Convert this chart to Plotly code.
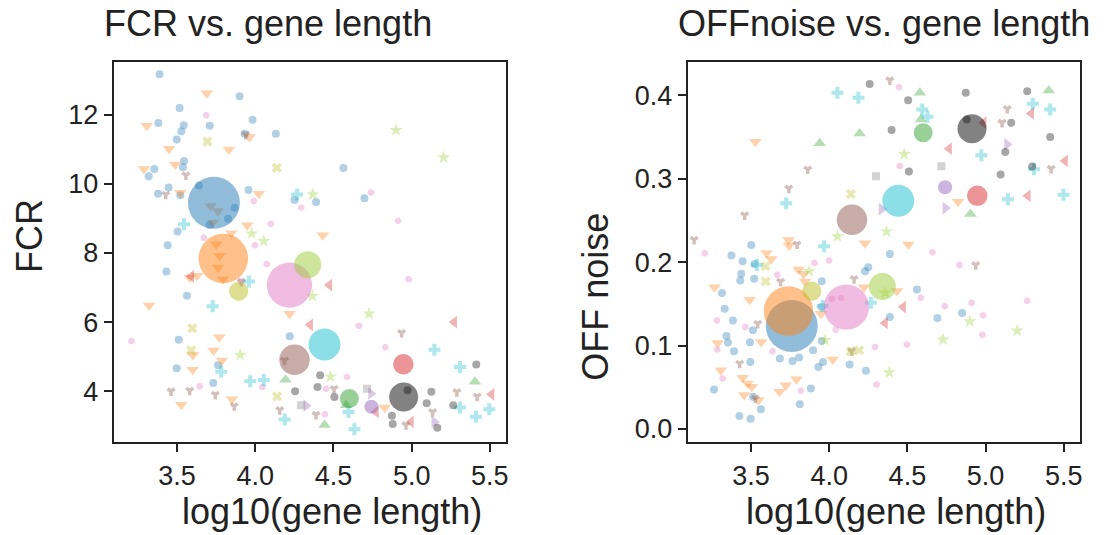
import plotly.graph_objects as go

# ---------------- data ----------------
# gene-level points per cluster, left panel: (log10 gene length, FCR)
fcr_blue = [(3.389, 13.17), (3.900, 12.53), (3.517, 12.19), (3.381, 11.76), (3.543, 11.69), (3.709, 11.68),
            (3.528, 11.52), (3.983, 11.85), (3.932, 11.45), (4.132, 11.45), (3.498, 11.28), (3.545, 10.66),
            (3.538, 10.48), (3.355, 10.43), (3.319, 10.22), (3.447, 9.89), (3.379, 9.71), (3.521, 9.67),
            (3.957, 9.82), (4.251, 9.53), (4.389, 9.47), (4.698, 9.58), (4.564, 10.46), (3.504, 8.62),
            (3.440, 8.22), (3.432, 7.46), (3.564, 6.76), (4.221, 5.59), (3.511, 5.49), (3.498, 4.66),
            (3.762, 4.75), (3.732, 4.24), (3.640, 9.95), (3.868, 9.31), (3.826, 8.99), (3.709, 8.81)]
fcr_orange = [(3.691, 12.62), (3.306, 11.68), (3.449, 11.01), (3.832, 10.99), (3.289, 10.43), (3.489, 10.56),
              (3.964, 11.35), (3.521, 9.74), (4.023, 9.71), (3.949, 8.80), (4.432, 8.51), (3.847, 8.57),
              (3.321, 6.48), (4.219, 6.24), (3.770, 5.56), (3.734, 5.18), (3.602, 5.05), (3.787, 4.89),
              (3.600, 4.62), (3.851, 3.77), (3.528, 3.61), (4.828, 3.53), (3.581, 7.29), (3.628, 7.34),
              (3.772, 7.92), (3.762, 7.58), (3.794, 7.24), (3.751, 8.25), (3.715, 9.36), (3.762, 9.21),
              (3.730, 8.88)]
fcr_green = [(4.443, 3.02), (4.194, 4.33), (5.404, 4.27), (4.581, 3.59)]
fcr_red = [(4.474, 7.07), (4.351, 5.92), (5.272, 6.00), (5.511, 3.91), (4.996, 3.11), (4.772, 3.40), (3.591, 7.32)]
fcr_purple = [(4.326, 3.58), (4.740, 3.93), (5.145, 3.11)]
fcr_brown = [(3.428, 9.69), (3.557, 10.25), (3.940, 11.42), (3.462, 4.00), (3.581, 4.02), (3.745, 3.90),
             (3.866, 3.57), (4.157, 3.46), (4.389, 3.32), (4.936, 5.69), (5.419, 3.85), (4.964, 3.02),
             (5.134, 3.40), (4.504, 4.07), (5.289, 3.98), (4.187, 4.89), (3.911, 7.17)]
fcr_pink = [(3.687, 11.98), (4.740, 9.75), (4.913, 8.93), (4.981, 7.24), (4.662, 5.89), (4.832, 5.27),
            (4.587, 4.41), (4.445, 3.33), (4.453, 4.07), (4.045, 4.12), (3.645, 4.14), (3.209, 5.45),
            (3.672, 8.44), (3.998, 8.22), (4.074, 7.68), (4.100, 8.84), (4.294, 9.31), (3.991, 9.50),
            (3.909, 7.17)]
fcr_gray = [(4.294, 3.59), (4.715, 4.07)]
fcr_olive = [(3.694, 11.22), (4.138, 10.46), (3.598, 5.82), (4.140, 3.85), (3.591, 5.18)]
fcr_cyan = [(4.268, 9.69), (3.545, 8.83), (3.960, 7.17), (3.728, 6.46), (3.783, 4.56), (3.968, 4.29),
            (4.055, 4.32), (4.189, 3.18), (4.634, 2.90), (4.596, 3.40), (5.145, 5.20), (5.309, 4.70),
            (5.309, 3.53), (5.411, 3.26), (5.496, 3.48)]
fcr_black = [(4.415, 4.46), (4.398, 4.12), (4.255, 4.00), (4.506, 3.83), (4.874, 3.29), (4.879, 3.05),
             (5.096, 3.65), (5.126, 3.98), (5.164, 2.94), (5.266, 3.59), (5.413, 4.77), (4.974, 4.03)]
fcr_lime = [(4.900, 11.55), (5.204, 10.76), (4.368, 9.69), (3.977, 8.56), (4.055, 8.34), (4.366, 6.75),
            (4.728, 6.24), (3.904, 5.05), (4.481, 4.42)]

# right panel: (log10 gene length, OFF noise)
noise_blue = [(3.502, 0.2205), (3.375, 0.2078), (3.447, 0.2010), (3.523, 0.1978), (3.438, 0.1859),
              (3.432, 0.1779), (3.521, 0.1799), (3.315, 0.1628), (3.332, 0.1441), (3.385, 0.1301),
              (3.343, 0.1114), (3.353, 0.1035), (3.392, 0.0931), (3.494, 0.1039), (3.513, 0.1182),
              (3.496, 0.0804), (3.264, 0.0474), (3.426, 0.0155), (3.498, 0.0123), (3.564, 0.0235),
              (3.513, 0.0386), (3.685, 0.0844), (3.766, 0.0816), (3.808, 0.0856), (3.897, 0.0943),
              (3.931, 0.0744), (3.961, 0.0804), (3.883, 0.0486), (3.812, 0.0295), (4.131, 0.0772),
              (4.235, 0.0697), (3.953, 0.1771), (4.229, 0.1891), (4.250, 0.1938), (4.388, 0.2098),
              (4.388, 0.1341), (4.561, 0.1672), (4.692, 0.1329), (4.850, 0.1389), (3.951, 0.1461),
              (3.953, 0.1055)]
noise_orange = [(3.528, 0.3443), (3.268, 0.1699), (3.287, 0.1031), (3.307, 0.0705), (3.447, 0.0613),
                (3.479, 0.0545), (3.506, 0.0505), (3.457, 0.0406), (3.549, 0.0346), (3.683, 0.0446),
                (3.723, 0.0525), (3.791, 0.0597), (3.600, 0.2109), (3.630, 0.2038), (3.740, 0.2265),
                (3.744, 0.2197), (3.804, 0.1910), (3.836, 0.1859), (3.846, 0.1767), (3.948, 0.1381),
                (4.023, 0.0832), (3.566, 0.1043), (3.492, 0.1548), (4.229, 0.2225), (4.507, 0.2209),
                (4.824, 0.2722), (4.223, 0.1699), (4.433, 0.1652)]
noise_green = [(3.940, 0.3423), (4.195, 0.3542), (4.580, 0.4028), (4.586, 0.3709), (4.903, 0.2575), (5.404, 0.4056)]
noise_red = [(4.767, 0.3359), (5.292, 0.3781), (5.508, 0.3212), (5.270, 0.2794), (4.473, 0.1461),
             (4.357, 0.1270), (4.988, 0.3670)]
noise_purple = [(4.335, 0.2635), (4.743, 0.2647), (5.137, 0.3411)]
noise_brown = [(4.388, 0.4179), (5.139, 0.3837), (5.105, 0.3670), (5.419, 0.3120), (4.937, 0.1966),
               (4.159, 0.1799), (3.863, 0.3112), (3.742, 0.2882), (3.460, 0.2563), (3.137, 0.2269),
               (3.795, 0.2213), (3.428, 0.0784), (3.528, 0.0366), (3.543, 0.1262), (3.689, 0.1767),
               (4.144, 0.0932)]
noise_pink = [(4.446, 0.4096), (4.452, 0.3152), (3.999, 0.2018), (3.906, 0.1990), (3.668, 0.1847),
              (3.205, 0.2106), (4.660, 0.2117), (4.833, 0.1966), (4.911, 0.1512), (4.984, 0.1361),
              (4.979, 0.1130), (5.266, 0.1536), (4.739, 0.1473), (4.586, 0.1572), (4.497, 0.1011),
              (4.293, 0.0983), (4.303, 0.0533), (3.819, 0.0458), (3.283, 0.1301), (3.285, 0.0951),
              (3.319, 0.0605), (3.464, 0.1222), (3.638, 0.0931), (4.042, 0.1190), (4.076, 0.1568),
              (4.019, 0.1560)]
noise_gray = [(4.299, 0.3029), (4.718, 0.3148)]
noise_olive = [(4.138, 0.2814), (3.594, 0.1950), (3.594, 0.1767), (4.191, 0.0943), (4.138, 0.0931)]
noise_cyan = [(4.053, 0.4028), (4.187, 0.3968), (4.595, 0.3829), (4.629, 0.3741), (4.973, 0.3280),
              (5.302, 0.3897), (5.413, 0.3829), (5.143, 0.2754), (5.498, 0.2806), (5.309, 0.3112),
              (3.725, 0.2706), (3.968, 0.2189), (3.538, 0.1966), (4.267, 0.1512), (3.959, 0.1473)]
noise_black = [(4.259, 0.4135), (4.505, 0.3940), (4.399, 0.3582), (4.510, 0.3085), (4.873, 0.4028),
               (5.266, 0.4048), (5.164, 0.3670), (5.126, 0.3319), (5.096, 0.3049), (5.298, 0.3144),
               (5.413, 0.3498), (4.879, 0.3709)]
noise_lime = [(4.480, 0.3292), (4.367, 0.2364), (4.053, 0.2308), (3.872, 0.1891), (4.728, 0.1071),
              (4.899, 0.1290), (5.202, 0.1178), (4.384, 0.0677), (4.357, 0.1632), (3.974, 0.1063)]

# cluster centroids (big bubbles)
centroid_names = ["blue", "orange", "pink", "lime", "olive", "brown", "cyan", "red", "green", "purple", "black"]
fcr_cx = [3.736, 3.796, 4.219, 4.336, 3.894, 4.251, 4.443, 4.947, 4.602, 4.743, 4.949]
fcr_cy = [9.45, 7.84, 7.07, 7.66, 6.89, 4.91, 5.35, 4.78, 3.79, 3.55, 3.83]
noise_cx = [3.761, 3.740, 4.110, 4.340, 3.889, 4.146, 4.442, 4.947, 4.601, 4.741, 4.913]
noise_cy = [0.1234, 0.1413, 0.1461, 0.1707, 0.1652, 0.2507, 0.2734, 0.2794, 0.3550, 0.2897, 0.3598]
cluster_n = [270, 245, 205, 73, 37, 92, 102, 42, 36, 20, 84]

x_ticks = [3.5, 4.0, 4.5, 5.0, 5.5]
fcr_ticks = [4, 6, 8, 10, 12]
noise_ticks = [0.0, 0.1, 0.2, 0.3, 0.4]

# ---------------- styles ----------------
colors = {"blue": "#1f77b4", "orange": "#ff7f0e", "green": "#2ca02c", "red": "#d62728", "purple": "#9467bd",
          "brown": "#8c564b", "pink": "#e377c2", "gray": "#7f7f7f", "olive": "#bcbd22", "cyan": "#17becf",
          "black": "#000000", "lime": "#9acd32"}
symbols = {"blue": ("circle", 8), "orange": ("triangle-down", 11), "green": ("triangle-up", 11),
           "red": ("triangle-left", 11), "purple": ("triangle-right", 11), "brown": ("y-down", 6),
           "pink": ("octagon", 7), "gray": ("square", 8), "olive": ("x", 9), "cyan": ("cross", 10),
           "black": ("circle", 8), "lime": ("star", 10)}

def rgba(hexc, a):
    h = hexc.lstrip("#")
    return "rgba(%d,%d,%d,%.2f)" % (int(h[0:2], 16), int(h[2:4], 16), int(h[4:6], 16), a)

order = ["blue", "orange", "green", "red", "purple", "brown", "pink", "gray", "olive", "cyan", "black", "lime"]
fcr_pts = {"blue": fcr_blue, "orange": fcr_orange, "green": fcr_green, "red": fcr_red, "purple": fcr_purple,
           "brown": fcr_brown, "pink": fcr_pink, "gray": fcr_gray, "olive": fcr_olive, "cyan": fcr_cyan,
           "black": fcr_black, "lime": fcr_lime}
noise_pts = {"blue": noise_blue, "orange": noise_orange, "green": noise_green, "red": noise_red,
             "purple": noise_purple, "brown": noise_brown, "pink": noise_pink, "gray": noise_gray,
             "olive": noise_olive, "cyan": noise_cyan, "black": noise_black, "lime": noise_lime}

fig = go.Figure()
for pts, xa, ya in [(fcr_pts, "x", "y"), (noise_pts, "x2", "y2")]:
    for name in order:
        sym, sz = symbols[name]
        c = colors[name]
        if sym == "y-down":
            marker = dict(symbol=sym, size=sz, color=rgba(c, 0.38),
                          line=dict(width=3.5, color=rgba(c, 0.38)))
        else:
            marker = dict(symbol=sym, size=sz, color=rgba(c, 0.35), line=dict(width=0))
        fig.add_trace(go.Scatter(x=[p[0] for p in pts[name]], y=[p[1] for p in pts[name]],
                                 mode="markers", marker=marker, xaxis=xa, yaxis=ya,
                                 showlegend=False, hoverinfo="skip"))

for cx, cy, xa, ya in [(fcr_cx, fcr_cy, "x", "y"), (noise_cx, noise_cy, "x2", "y2")]:
    for i, name in enumerate(centroid_names):
        fig.add_trace(go.Scatter(x=[cx[i]], y=[cy[i]], mode="markers",
                                 marker=dict(symbol="circle", size=[cluster_n[i]], sizemode="area",
                                             sizeref=0.2, color=rgba(colors[name], 0.7),
                                             line=dict(width=0)),
                                 xaxis=xa, yaxis=ya, showlegend=False, hoverinfo="skip"))

FONT = "Liberation Sans, Arial, sans-serif"
INK = "#222222"
axis_common = dict(showline=True, mirror=True, linecolor=INK, linewidth=2, ticks="outside", ticklen=8,
                   tickwidth=2, tickcolor=INK, showgrid=False, zeroline=False,
                   tickfont=dict(family=FONT, size=27, color=INK))

fig.update_layout(
    width=1110, height=535, paper_bgcolor="white", plot_bgcolor="white",
    margin=dict(l=0, r=0, t=0, b=0),
    xaxis=dict(domain=[0.1027, 0.4568], range=[3.096, 5.604], tickvals=x_ticks,
               ticktext=["%.1f" % v for v in x_ticks], anchor="y", **axis_common),
    yaxis=dict(domain=[0.1701, 0.8841], range=[2.52, 13.53], tickvals=fcr_ticks,
               ticktext=[str(v) for v in fcr_ticks], anchor="x", **axis_common),
    xaxis2=dict(domain=[0.6207, 0.9748], range=[3.096, 5.604], tickvals=x_ticks,
                ticktext=["%.1f" % v for v in x_ticks], anchor="y2", **axis_common),
    yaxis2=dict(domain=[0.1701, 0.8841], range=[-0.016, 0.440], tickvals=noise_ticks,
                ticktext=["%.1f" % v for v in noise_ticks], anchor="x2", **axis_common),
)

ann_font_big = dict(family=FONT, size=36, color=INK)
annotations = [
    dict(text="FCR vs. gene length", x=268 / 1110, y=1 - 24 / 535),
    dict(text="OFFnoise vs. gene length", x=886 / 1110, y=1 - 24 / 535),
    dict(text="log10(gene length)", x=333 / 1110, y=1 - 513 / 535),
    dict(text="log10(gene length)", x=898 / 1110, y=1 - 513 / 535),
    dict(text="FCR", x=29 / 1110, y=1 - 237 / 535, textangle=-90),
    dict(text="OFF noise", x=597 / 1110, y=1 - 298 / 535, textangle=-90),
]
for a in annotations:
    fig.add_annotation(xref="paper", yref="paper", xanchor="center", yanchor="middle",
                       showarrow=False, font=ann_font_big, **a)

fig.write_html("out.html", config={"displayModeBar": False},
               post_script="document.body.style.margin='0px';")
